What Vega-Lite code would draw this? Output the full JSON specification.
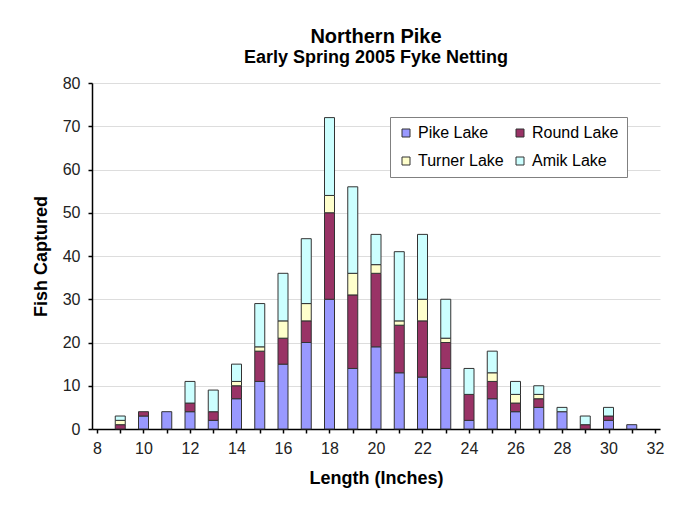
{
  "$schema": "https://vega.github.io/schema/vega-lite/v6.json",
  "width": 568,
  "height": 346,
  "autosize": {"type": "none"},
  "padding": {"left": 92, "top": 83, "right": 28, "bottom": 81},
  "background": "white",
  "title": {
    "text": "Northern Pike",
    "subtitle": "Early Spring 2005 Fyke Netting",
    "anchor": "middle",
    "font": "Liberation Sans",
    "subtitleFont": "Liberation Sans",
    "fontSize": 20,
    "subtitleFontSize": 18,
    "fontWeight": "bold",
    "subtitleFontWeight": "bold",
    "color": "#000000",
    "subtitleColor": "#000000",
    "subtitlePadding": 2,
    "offset": 8
  },
  "data": {
    "values": [
      {"length": 9, "lake": "Round Lake", "fish": 1, "order": 2},
      {"length": 9, "lake": "Turner Lake", "fish": 1, "order": 3},
      {"length": 9, "lake": "Amik Lake", "fish": 1, "order": 4},
      {"length": 10, "lake": "Pike Lake", "fish": 3, "order": 1},
      {"length": 10, "lake": "Round Lake", "fish": 1, "order": 2},
      {"length": 11, "lake": "Pike Lake", "fish": 4, "order": 1},
      {"length": 12, "lake": "Pike Lake", "fish": 4, "order": 1},
      {"length": 12, "lake": "Round Lake", "fish": 2, "order": 2},
      {"length": 12, "lake": "Amik Lake", "fish": 5, "order": 4},
      {"length": 13, "lake": "Pike Lake", "fish": 2, "order": 1},
      {"length": 13, "lake": "Round Lake", "fish": 2, "order": 2},
      {"length": 13, "lake": "Amik Lake", "fish": 5, "order": 4},
      {"length": 14, "lake": "Pike Lake", "fish": 7, "order": 1},
      {"length": 14, "lake": "Round Lake", "fish": 3, "order": 2},
      {"length": 14, "lake": "Turner Lake", "fish": 1, "order": 3},
      {"length": 14, "lake": "Amik Lake", "fish": 4, "order": 4},
      {"length": 15, "lake": "Pike Lake", "fish": 11, "order": 1},
      {"length": 15, "lake": "Round Lake", "fish": 7, "order": 2},
      {"length": 15, "lake": "Turner Lake", "fish": 1, "order": 3},
      {"length": 15, "lake": "Amik Lake", "fish": 10, "order": 4},
      {"length": 16, "lake": "Pike Lake", "fish": 15, "order": 1},
      {"length": 16, "lake": "Round Lake", "fish": 6, "order": 2},
      {"length": 16, "lake": "Turner Lake", "fish": 4, "order": 3},
      {"length": 16, "lake": "Amik Lake", "fish": 11, "order": 4},
      {"length": 17, "lake": "Pike Lake", "fish": 20, "order": 1},
      {"length": 17, "lake": "Round Lake", "fish": 5, "order": 2},
      {"length": 17, "lake": "Turner Lake", "fish": 4, "order": 3},
      {"length": 17, "lake": "Amik Lake", "fish": 15, "order": 4},
      {"length": 18, "lake": "Pike Lake", "fish": 30, "order": 1},
      {"length": 18, "lake": "Round Lake", "fish": 20, "order": 2},
      {"length": 18, "lake": "Turner Lake", "fish": 4, "order": 3},
      {"length": 18, "lake": "Amik Lake", "fish": 18, "order": 4},
      {"length": 19, "lake": "Pike Lake", "fish": 14, "order": 1},
      {"length": 19, "lake": "Round Lake", "fish": 17, "order": 2},
      {"length": 19, "lake": "Turner Lake", "fish": 5, "order": 3},
      {"length": 19, "lake": "Amik Lake", "fish": 20, "order": 4},
      {"length": 20, "lake": "Pike Lake", "fish": 19, "order": 1},
      {"length": 20, "lake": "Round Lake", "fish": 17, "order": 2},
      {"length": 20, "lake": "Turner Lake", "fish": 2, "order": 3},
      {"length": 20, "lake": "Amik Lake", "fish": 7, "order": 4},
      {"length": 21, "lake": "Pike Lake", "fish": 13, "order": 1},
      {"length": 21, "lake": "Round Lake", "fish": 11, "order": 2},
      {"length": 21, "lake": "Turner Lake", "fish": 1, "order": 3},
      {"length": 21, "lake": "Amik Lake", "fish": 16, "order": 4},
      {"length": 22, "lake": "Pike Lake", "fish": 12, "order": 1},
      {"length": 22, "lake": "Round Lake", "fish": 13, "order": 2},
      {"length": 22, "lake": "Turner Lake", "fish": 5, "order": 3},
      {"length": 22, "lake": "Amik Lake", "fish": 15, "order": 4},
      {"length": 23, "lake": "Pike Lake", "fish": 14, "order": 1},
      {"length": 23, "lake": "Round Lake", "fish": 6, "order": 2},
      {"length": 23, "lake": "Turner Lake", "fish": 1, "order": 3},
      {"length": 23, "lake": "Amik Lake", "fish": 9, "order": 4},
      {"length": 24, "lake": "Pike Lake", "fish": 2, "order": 1},
      {"length": 24, "lake": "Round Lake", "fish": 6, "order": 2},
      {"length": 24, "lake": "Amik Lake", "fish": 6, "order": 4},
      {"length": 25, "lake": "Pike Lake", "fish": 7, "order": 1},
      {"length": 25, "lake": "Round Lake", "fish": 4, "order": 2},
      {"length": 25, "lake": "Turner Lake", "fish": 2, "order": 3},
      {"length": 25, "lake": "Amik Lake", "fish": 5, "order": 4},
      {"length": 26, "lake": "Pike Lake", "fish": 4, "order": 1},
      {"length": 26, "lake": "Round Lake", "fish": 2, "order": 2},
      {"length": 26, "lake": "Turner Lake", "fish": 2, "order": 3},
      {"length": 26, "lake": "Amik Lake", "fish": 3, "order": 4},
      {"length": 27, "lake": "Pike Lake", "fish": 5, "order": 1},
      {"length": 27, "lake": "Round Lake", "fish": 2, "order": 2},
      {"length": 27, "lake": "Turner Lake", "fish": 1, "order": 3},
      {"length": 27, "lake": "Amik Lake", "fish": 2, "order": 4},
      {"length": 28, "lake": "Pike Lake", "fish": 4, "order": 1},
      {"length": 28, "lake": "Amik Lake", "fish": 1, "order": 4},
      {"length": 29, "lake": "Round Lake", "fish": 1, "order": 2},
      {"length": 29, "lake": "Amik Lake", "fish": 2, "order": 4},
      {"length": 30, "lake": "Pike Lake", "fish": 2, "order": 1},
      {"length": 30, "lake": "Round Lake", "fish": 1, "order": 2},
      {"length": 30, "lake": "Amik Lake", "fish": 2, "order": 4},
      {"length": 31, "lake": "Pike Lake", "fish": 1, "order": 1}
    ]
  },
  "mark": {"type": "bar", "size": 10, "stroke": "#333333", "strokeWidth": 1},
  "encoding": {
    "x": {
      "field": "length",
      "type": "quantitative",
      "scale": {"domain": [8, 32], "nice": false, "zero": false},
      "axis": {
        "title": "Length (Inches)",
        "values": [8, 9, 10, 11, 12, 13, 14, 15, 16, 17, 18, 19, 20, 21, 22, 23, 24, 25, 26, 27, 28, 29, 30, 31, 32],
        "labelExpr": "datum.value % 2 == 0 ? datum.label : ''",
        "grid": false,
        "labelPadding": 7,
        "titlePadding": 13
      }
    },
    "y": {
      "field": "fish",
      "type": "quantitative",
      "aggregate": "sum",
      "stack": "zero",
      "scale": {"domain": [0, 80], "nice": false},
      "axis": {
        "title": "Fish Captured",
        "values": [0, 10, 20, 30, 40, 50, 60, 70, 80],
        "grid": true,
        "labelPadding": 8,
        "titlePadding": 12
      }
    },
    "color": {
      "field": "lake",
      "type": "nominal",
      "scale": {
        "domain": ["Pike Lake", "Round Lake", "Turner Lake", "Amik Lake"],
        "range": ["#9999FF", "#993366", "#FFFFCC", "#CCFFFF"]
      },
      "legend": {
        "title": null,
        "orient": "none",
        "direction": "horizontal",
        "legendX": 298,
        "legendY": 34,
        "columns": 2,
        "columnPadding": 8,
        "rowPadding": 12,
        "padding": 8,
        "strokeColor": "#808080",
        "fillColor": "#FFFFFF",
        "symbolType": "square",
        "symbolSize": 64,
        "symbolStrokeColor": "#333333",
        "symbolStrokeWidth": 1,
        "labelFontSize": 16,
        "labelOffset": 4,
        "labelColor": "#000000",
        "labelFont": "Liberation Sans"
      }
    },
    "order": {"field": "order", "type": "quantitative"}
  },
  "config": {
    "font": "Liberation Sans",
    "view": {"stroke": null},
    "axis": {
      "domainColor": "#000000",
      "domainWidth": 1.5,
      "tickColor": "#000000",
      "tickSize": 4,
      "tickWidth": 1.5,
      "labelFont": "Liberation Sans",
      "labelFontSize": 16,
      "labelColor": "#222222",
      "titleFont": "Liberation Sans",
      "titleFontSize": 18,
      "titleFontWeight": "bold",
      "titleColor": "#000000",
      "gridColor": "#DDDDDD",
      "gridWidth": 1
    }
  }
}
